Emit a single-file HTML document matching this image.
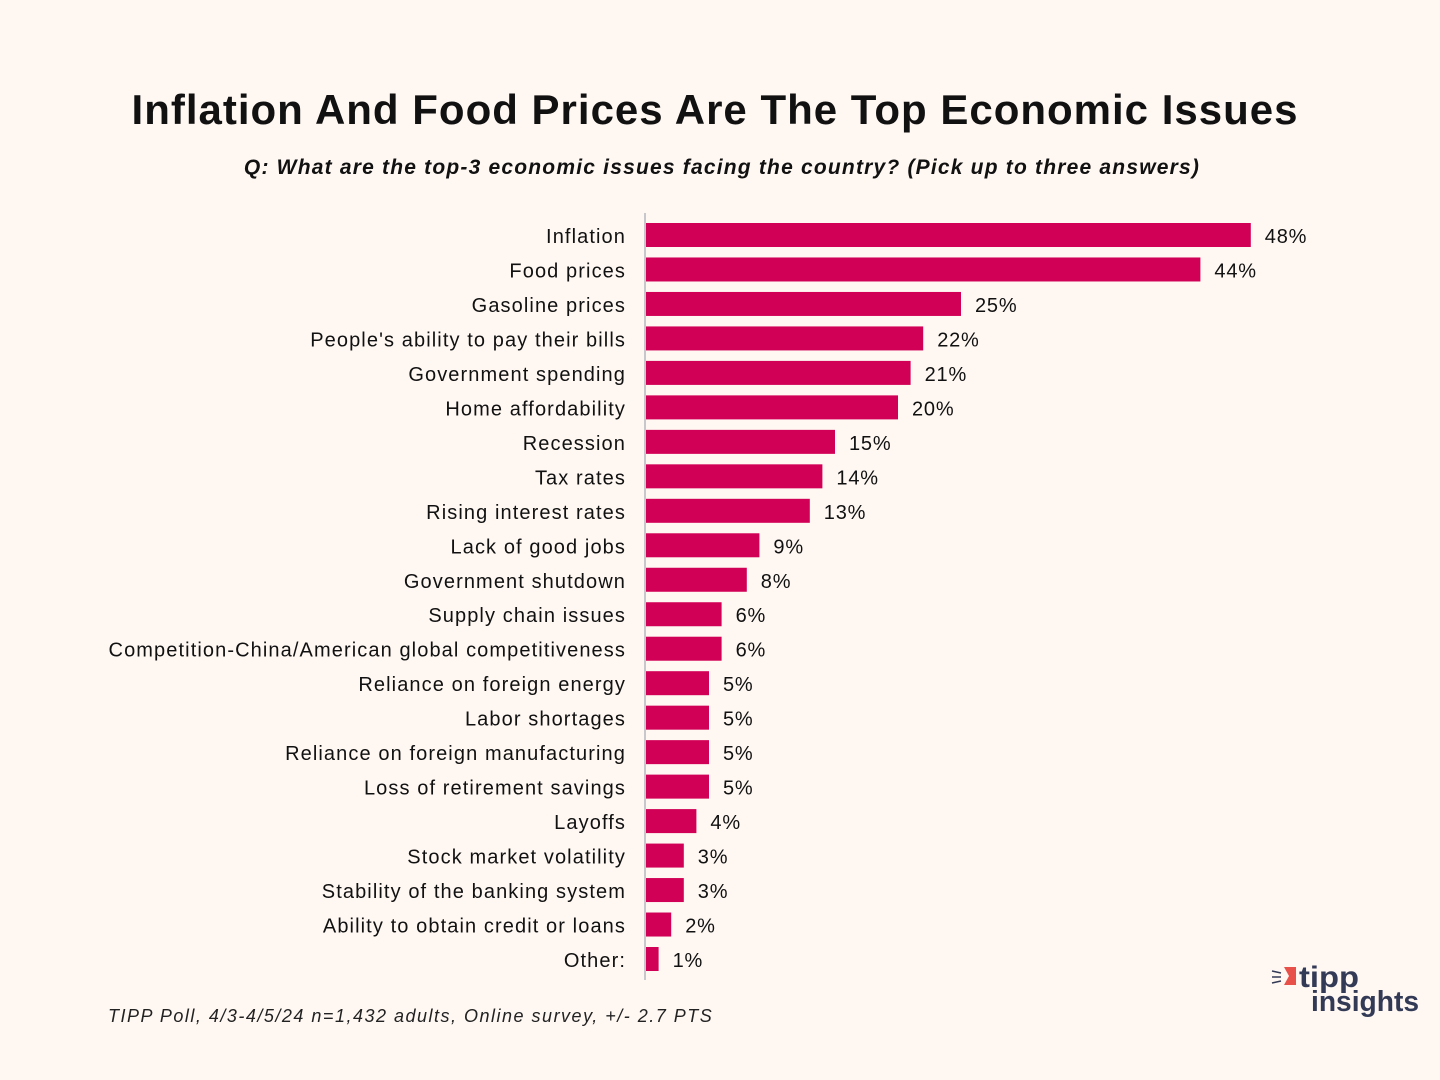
<!DOCTYPE html>
<html><head><meta charset="utf-8"><style>
html,body{margin:0;padding:0;background:#fef7f2;}
svg{display:block;font-family:"Liberation Sans","DejaVu Sans",sans-serif;}
</style></head><body>
<svg id="chart" width="1440" height="1080" viewBox="0 0 1440 1080">
<rect width="1440" height="1080" fill="#fef7f2"/>
<text x="715" y="124" text-anchor="middle" font-size="42" font-weight="bold" fill="#111" letter-spacing="1">Inflation And Food Prices Are The Top Economic Issues</text>
<text x="722" y="174" text-anchor="middle" font-size="21" font-weight="bold" font-style="italic" fill="#111" letter-spacing="1.2">Q: What are the top-3 economic issues facing the country? (Pick up to three answers)</text>
<line x1="645" y1="213" x2="645" y2="980" stroke="#c8c8cc" stroke-width="2"/>
<g id="bars"></g>
<text x="108" y="1022" font-size="18" font-style="italic" fill="#222" letter-spacing="1.5">TIPP Poll, 4/3-4/5/24 n=1,432 adults, Online survey, +/- 2.7 PTS</text>
<g>
<polygon points="1284,967 1296,967 1296,985 1284,985 1289,976" fill="#e8504a"/>
<line x1="1272" y1="971" x2="1281" y2="973" stroke="#333a55" stroke-width="1.5"/>
<line x1="1272" y1="977" x2="1281" y2="977" stroke="#333a55" stroke-width="1.5"/>
<line x1="1272" y1="983" x2="1281" y2="981" stroke="#333a55" stroke-width="1.5"/>
<text x="1299" y="987" font-size="30" font-weight="bold" fill="#333a55" textLength="60" lengthAdjust="spacingAndGlyphs">tipp</text>
<text x="1311" y="1011" font-size="29" font-weight="bold" fill="#333a55" textLength="108" lengthAdjust="spacingAndGlyphs">insights</text>
</g>
</svg>
<script>
const categories=["Inflation","Food prices","Gasoline prices","People's ability to pay their bills","Government spending","Home affordability","Recession","Tax rates","Rising interest rates","Lack of good jobs","Government shutdown","Supply chain issues","Competition-China/American global competitiveness","Reliance on foreign energy","Labor shortages","Reliance on foreign manufacturing","Loss of retirement savings","Layoffs","Stock market volatility","Stability of the banking system","Ability to obtain credit or loans","Other:"];
const values=[48,44,25,22,21,20,15,14,13,9,8,6,6,5,5,5,5,4,3,3,2,1];
const valueLabels=values.map(v=>v+"%");
const NS="http://www.w3.org/2000/svg";
const x0=646,pxPer=12.6,yTop=235,step=(959-235)/21,bh=24;
const xScale=v=>x0+v*pxPer;
const yScale=i=>yTop+i*step;
const g=document.getElementById('bars');
categories.forEach((c,i)=>{
  const y=yScale(i);
  const r=document.createElementNS(NS,'rect');
  r.setAttribute('x',x0);r.setAttribute('y',y-bh/2);
  r.setAttribute('width',xScale(values[i])-x0);r.setAttribute('height',bh);
  r.setAttribute('fill','#d10056');
  
  
  g.appendChild(r);
  const l=document.createElementNS(NS,'text');
  l.setAttribute('x',626);l.setAttribute('y',y+8);
  l.setAttribute('text-anchor','end');l.setAttribute('font-size','20');l.setAttribute('fill','#111');
  l.setAttribute('letter-spacing','1.1');
  l.textContent=c;
  
  
  g.appendChild(l);
  const t=document.createElementNS(NS,'text');
  t.setAttribute('x',xScale(values[i])+14);t.setAttribute('y',y+8);
  t.setAttribute('font-size','20');t.setAttribute('fill','#111');
  t.setAttribute('letter-spacing','0.8');
  t.textContent=valueLabels[i];
  
  
  g.appendChild(t);
});
</script>
</body></html>
